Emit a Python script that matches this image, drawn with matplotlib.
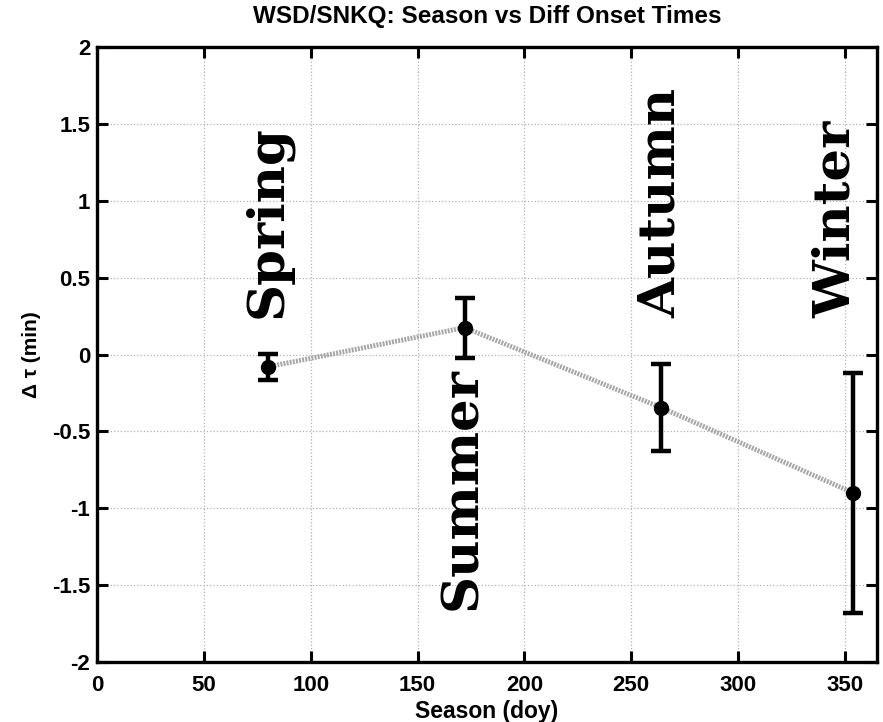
import matplotlib
matplotlib.use('Agg')
import matplotlib.pyplot as plt
import numpy as np

plt.rcParams['font.family'] = ['Liberation Sans', 'DejaVu Sans']
plt.rcParams['font.weight'] = 'bold'
plt.rcParams['axes.unicode_minus'] = False

# seasons (day of year) vs mean onset time difference and spread
seasons = ['Spring', 'Summer', 'Autumn', 'Winter']
doy = np.array([80, 172, 264, 354])
dtau = np.array([-0.08, 0.175, -0.345, -0.90])
err = np.array([0.085, 0.195, 0.285, 0.78])

# where the season names sit (x centre, start y of rotated text)
label_x = [80, 171, 264, 346]
label_y = [0.24, -1.66, 0.24, 0.24]

xticks = np.arange(0, 351, 50)
yticks = np.arange(-2, 2.01, 0.5)
ytick_labels = ['-2', '-1.5', '-1', '-0.5', '0', '0.5', '1', '1.5', '2']

fig = plt.figure(figsize=(8.83, 7.22), dpi=100)
ax = fig.add_axes([0.110, 0.083, 0.883, 0.852])

ax.plot(doy, dtau, color='0.65', lw=3.5, ls=(0, (0.4, 0.25)), zorder=2)
ax.errorbar(doy, dtau, yerr=err, fmt='o', color='black', ms=10, elinewidth=3.2,
            capsize=7, capthick=3.2, zorder=3)

for name, x, y in zip(seasons, label_x, label_y):
    ax.text(x, y, name, rotation=90, ha='center', va='bottom', fontsize=37,
            family='DejaVu Serif', fontweight='bold', zorder=4)

ax.set_xlim(0, 365)
ax.set_ylim(-2, 2)
ax.set_xticks(xticks)
ax.set_yticks(yticks)
ax.set_yticklabels(ytick_labels)
ax.tick_params(axis='both', direction='in', length=8, width=2.2, top=True,
               right=True, labelsize=16)
ax.tick_params(axis='x', pad=9)
ax.tick_params(axis='y', pad=5)
for lab in ax.get_xticklabels() + ax.get_yticklabels():
    lab.set_fontweight('bold')
ax.grid(True, color='0.7', ls=':', lw=0.9)
for s in ax.spines.values():
    s.set_linewidth(2.4)

ax.set_xlabel('Season (doy)', fontsize=16.5, fontweight='bold', labelpad=3)
ax.set_ylabel('Δ τ (min)', fontsize=15, fontweight='bold', labelpad=8)
ax.set_title('WSD/SNKQ: Season vs Diff Onset Times', fontsize=17.5,
             fontweight='bold', pad=17)

fig.savefig('out.png', dpi=100)
